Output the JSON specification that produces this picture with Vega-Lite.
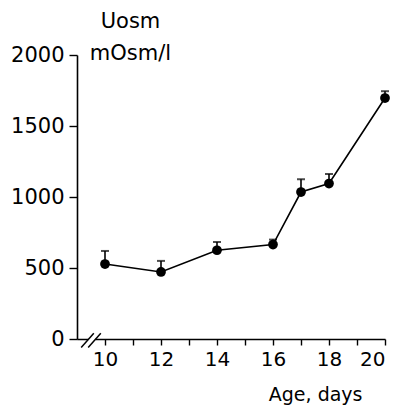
{
  "$schema": "https://vega.github.io/schema/vega-lite/v6.json",
  "width": 308,
  "height": 284,
  "autosize": "none",
  "padding": {"left": 77, "top": 55, "right": 16, "bottom": 70},
  "background": "white",
  "config": {
    "view": {"stroke": null},
    "font": "DejaVu Sans",
    "axis": {
      "grid": false,
      "domainColor": "black",
      "domainWidth": 1.6,
      "tickColor": "black",
      "tickWidth": 1.4,
      "labelColor": "black",
      "labelFont": "DejaVu Sans",
      "labelFontSize": 20,
      "titleFont": "DejaVu Sans",
      "titleFontWeight": "normal",
      "titleColor": "black",
      "titleFontSize": 19
    }
  },
  "datasets": {
    "series": [
      {"age": 10, "u": 528, "up": 620},
      {"age": 12, "u": 472, "up": 550},
      {"age": 14, "u": 625, "up": 683},
      {"age": 16, "u": 665, "up": 700},
      {"age": 17, "u": 1035, "up": 1125},
      {"age": 18, "u": 1095, "up": 1162},
      {"age": 20, "u": 1697, "up": 1745}
    ],
    "gap": [{"a": 9.4, "b": 9.66}],
    "slashes": [
      {"a": 9.15, "b": 9.6, "lo": -60, "hi": 40},
      {"a": 9.4, "b": 9.85, "lo": -60, "hi": 40}
    ]
  },
  "encoding": {
    "x": {
      "field": "age",
      "type": "quantitative",
      "scale": {"domain": [9, 20], "nice": false, "zero": false},
      "axis": {
        "values": [10, 11, 12, 13, 14, 15, 16, 17, 18, 19, 20],
        "labelExpr": "datum.value % 2 == 0 ? datum.label : ''",
        "tickSize": 6,
        "labelPadding": 4,
        "title": "Age, days",
        "titleAlign": "right",
        "titleBaseline": "alphabetic",
        "titleX": 285,
        "titleY": 61,
        "titleAnchor": null
      }
    }
  },
  "layer": [
    {
      "data": {"name": "series"},
      "mark": {"type": "line", "color": "black", "strokeWidth": 1.6},
      "encoding": {
        "y": {
          "field": "u",
          "type": "quantitative",
          "scale": {"domain": [0, 2000], "nice": false},
          "axis": {
            "values": [0, 500, 1000, 1500, 2000],
            "format": "d",
            "tickSize": 8,
            "labelPadding": 5,
            "labelFontSize": 21,
            "title": ["Uosm", "mOsm/l"],
            "titleFontSize": 21,
            "titleAngle": 0,
            "titleAlign": "center",
            "titleBaseline": "alphabetic",
            "titleX": 53,
            "titleY": -28,
            "titleLineHeight": 32,
            "titleAnchor": null
          }
        }
      }
    },
    {
      "data": {"name": "series"},
      "mark": {"type": "rule", "color": "black", "strokeWidth": 1.6},
      "encoding": {"y": {"field": "u", "type": "quantitative"}, "y2": {"field": "up"}}
    },
    {
      "data": {"name": "series"},
      "mark": {"type": "tick", "color": "black", "orient": "horizontal", "size": 8, "thickness": 2},
      "encoding": {"y": {"field": "up", "type": "quantitative"}}
    },
    {
      "data": {"name": "series"},
      "mark": {"type": "point", "filled": true, "color": "black", "opacity": 1, "size": 95},
      "encoding": {"y": {"field": "u", "type": "quantitative"}}
    },
    {
      "data": {"name": "gap"},
      "mark": {"type": "rule", "color": "white", "strokeWidth": 4, "clip": false},
      "encoding": {
        "x": {"field": "a", "type": "quantitative"},
        "x2": {"field": "b"},
        "y": {"datum": 0, "type": "quantitative"}
      }
    },
    {
      "data": {"name": "slashes"},
      "mark": {"type": "rule", "color": "black", "strokeWidth": 1.5, "clip": false},
      "encoding": {
        "x": {"field": "a", "type": "quantitative"},
        "x2": {"field": "b"},
        "y": {"field": "lo", "type": "quantitative"},
        "y2": {"field": "hi"}
      }
    }
  ]
}
